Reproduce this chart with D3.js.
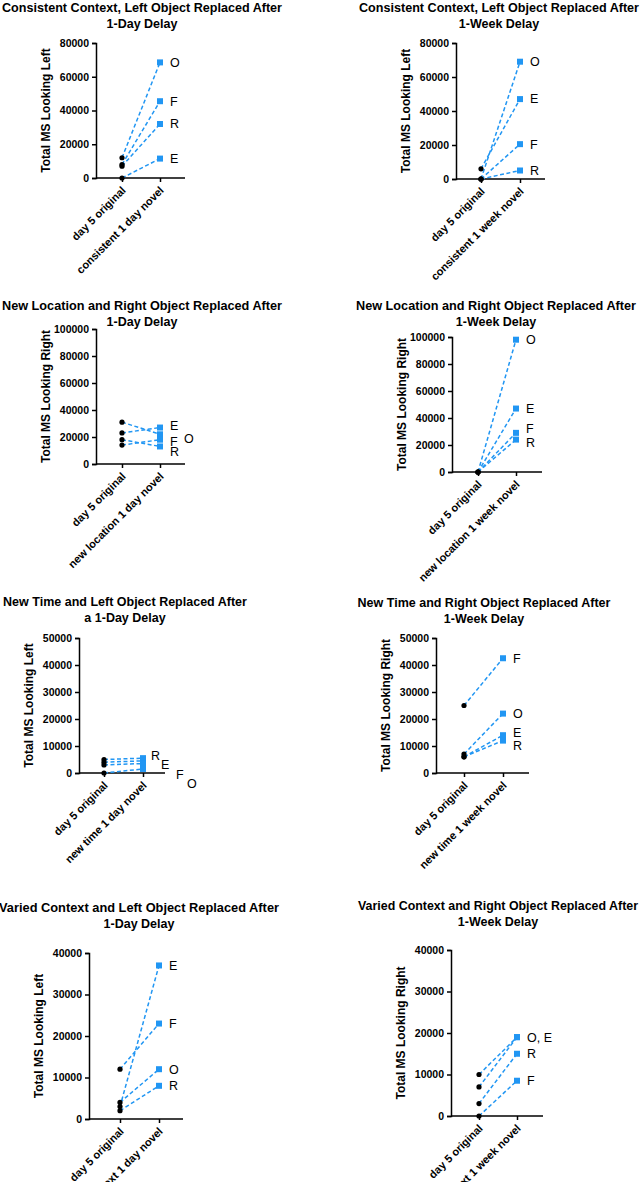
<!DOCTYPE html>
<html>
<head>
<meta charset="utf-8">
<script src="https://cdn.jsdelivr.net/npm/d3@7"></script>
<style>
  body { margin: 0; background: #fff; }
  text { font-family: "Liberation Sans", Arial, sans-serif; }
</style>
</head>
<body>
<div id="chart"></div>
<script>
// values, one set per panel
const titles = [
  ["Consistent Context, Left Object Replaced After", "1-Day Delay"],
  ["Consistent Context, Left Object Replaced After", "1-Week Delay"],
  ["New Location and Right Object Replaced After", "1-Day Delay"],
  ["New Location and Right Object Replaced After", "1-Week Delay"],
  ["New Time and Left Object Replaced After", "a 1-Day Delay"],
  ["New Time and Right Object Replaced After", "1-Week Delay"],
  ["Varied Context and Left Object Replaced After", "1-Day Delay"],
  ["Varied Context and Right Object Replaced After", "1-Week Delay"]
];
const yLabels = ["Total MS Looking Left", "Total MS Looking Left", "Total MS Looking Right", "Total MS Looking Right",
  "Total MS Looking Left", "Total MS Looking Right", "Total MS Looking Left", "Total MS Looking Right"];
const yMax = [80000, 80000, 100000, 100000, 50000, 50000, 40000, 40000];
const yStep = [20000, 20000, 20000, 20000, 10000, 10000, 10000, 10000];
const categories = [
  ["day 5 original", "consistent 1 day novel"],
  ["day 5 original", "consistent 1 week novel"],
  ["day 5 original", "new location 1 day novel"],
  ["day 5 original", "new location 1 week novel"],
  ["day 5 original", "new time 1 day novel"],
  ["day 5 original", "new time 1 week novel"],
  ["day 5 original", "varied context 1 day novel"],
  ["day 5 original", "varied context 1 week novel"]
];
const seriesNames = [
  ["O", "F", "R", "E"],
  ["O", "E", "F", "R"],
  ["E", "O", "F", "R"],
  ["O", "E", "F", "R"],
  ["R", "E", "F", "O"],
  ["F", "O", "E", "R"],
  ["E", "F", "O", "R"],
  ["O, E", "", "R", "F"]
];
const startValues = [
  [12000, 8000, 7000, 0],
  [0, 6000, 0, 0],
  [23000, 31000, 14000, 18000],
  [0, 0, 0, 0],
  [5000, 4000, 3000, 0],
  [25000, 7000, 6000, 6000],
  [3000, 12000, 4000, 2000],
  [10000, 7000, 3000, 0]
];
const endValues = [
  [68500, 45500, 32000, 11500],
  [69000, 47000, 20500, 5000],
  [27000, 22000, 18000, 13000],
  [98000, 47000, 29000, 24000],
  [5500, 4500, 3500, 1500],
  [42500, 22000, 14000, 12000],
  [37000, 23000, 12000, 8000],
  [19000, 19000, 15000, 8500]
];

// layout: panel frames (axis x, top y, bottom y, category x's, axis end, title centre/baseline)
const frames = [
  {ax: 96, top: 43, bot: 178, c0: 122, c1: 160, end: 185, tx: 142, ty: 12},
  {ax: 456, top: 43, bot: 179, c0: 481, c1: 520, end: 545, tx: 499, ty: 12},
  {ax: 96, top: 329, bot: 464, c0: 122, c1: 160, end: 185, tx: 142, ty: 310},
  {ax: 452, top: 337, bot: 472, c0: 478, c1: 516, end: 542, tx: 496, ty: 310},
  {ax: 79, top: 638, bot: 773, c0: 104, c1: 143, end: 165, tx: 125, ty: 606},
  {ax: 436, top: 638, bot: 773, c0: 464, c1: 503, end: 529, tx: 484, ty: 607},
  {ax: 89, top: 953, bot: 1119, c0: 120, c1: 159, end: 183, tx: 139, ty: 912},
  {ax: 451, top: 950, bot: 1116, c0: 479, c1: 517, end: 543, tx: 498, ty: 910}
];
// special label placements (dx, dy) where the source staggers them
const labelOffsets = {
  2: [[10, -2], [24, 4], [10, 2], [10, 5]],
  3: [[10, 0], [10, 0], [10, -4], [10, 3]],
  4: [[8, -3], [18, 4], [33, 11], [44, 15]],
  5: [[10, 0], [10, 0], [10, -3], [10, 5]]
};

const blue = "#2196f3";
const font = "'Liberation Sans', Arial, sans-serif";
const svg = d3.select("#chart").append("svg").attr("width", 643).attr("height", 1182);

frames.forEach((f, i) => {
  const g = svg.append("g");

  g.selectAll("text.title").data(titles[i]).join("text")
    .attr("x", f.tx).attr("y", (d, k) => f.ty + k * 16)
    .attr("text-anchor", "middle").attr("font-size", 12.5).attr("font-weight", "bold")
    .attr("textLength", (d, k) => k === 0 && d.length > 42 ? 280 : null)
    .attr("lengthAdjust", "spacingAndGlyphs")
    .text(d => d);

  const y = d3.scaleLinear().domain([0, yMax[i]]).range([f.bot, f.top]);
  const x = d3.scalePoint().domain(categories[i]).range([f.c0, f.c1]);

  g.append("g").attr("transform", `translate(${f.ax},0)`)
    .call(d3.axisLeft(y).tickValues(d3.range(0, yMax[i] + 1, yStep[i])).tickFormat(d3.format("d")).tickSize(4))
    .call(a => a.select(".domain").attr("stroke-width", 1.5))
    .call(a => a.selectAll("line").attr("stroke-width", 1.5))
    .call(a => a.selectAll("text").attr("font-size", 10.5).attr("font-weight", "bold").attr("font-family", font));

  g.append("g").attr("transform", `translate(0,${f.bot})`)
    .call(d3.axisBottom(x).tickSize(4).tickSizeOuter(0))
    .call(a => a.select(".domain").attr("d", `M${f.ax},0H${f.end}`).attr("stroke-width", 1.5))
    .call(a => a.selectAll("line").attr("stroke-width", 1.5))
    .call(a => a.selectAll("text").attr("font-size", 11).attr("font-weight", "bold").attr("font-family", font)
      .attr("text-anchor", "end").attr("dy", 0).attr("y", 0)
      .attr("transform", "translate(4,13) rotate(-45)"));

  g.append("text")
    .attr("transform", `translate(${f.ax - 46},${(f.top + f.bot) / 2}) rotate(-90)`)
    .attr("text-anchor", "middle").attr("font-size", 12).attr("font-weight", "bold")
    .text(yLabels[i]);

  const rows = seriesNames[i].map((n, k) => ({n, a: startValues[i][k], b: endValues[i][k], k}));
  const [c0, c1] = categories[i];

  g.selectAll("line.pair").data(rows).join("line")
    .attr("x1", x(c0)).attr("x2", x(c1))
    .attr("y1", d => y(d.a)).attr("y2", d => y(d.b))
    .attr("stroke", blue).attr("stroke-width", 1.5).attr("stroke-dasharray", "4,2.5");

  g.selectAll("circle").data(rows).join("circle")
    .attr("cx", x(c0)).attr("cy", d => y(d.a)).attr("r", 2.6).attr("fill", "#000");

  g.selectAll("rect.pt").data(rows).join("rect")
    .attr("x", x(c1) - 3).attr("y", d => y(d.b) - 3).attr("width", 6).attr("height", 6)
    .attr("fill", blue);

  const offs = labelOffsets[i];
  g.selectAll("text.lab").data(rows.filter(d => d.n)).join("text")
    .attr("x", d => x(c1) + (offs ? offs[d.k][0] : 10))
    .attr("y", d => y(d.b) + (offs ? offs[d.k][1] : 0))
    .attr("dy", "0.35em").attr("font-size", 12.5).text(d => d.n);
});
</script>
</body>
</html>
